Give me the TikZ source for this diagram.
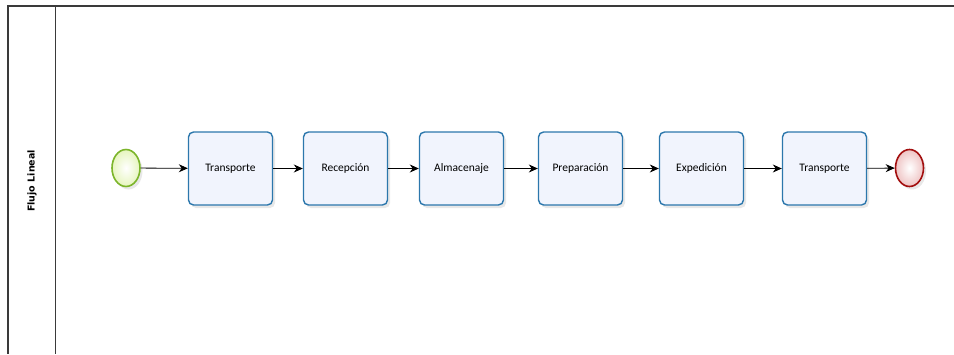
\documentclass[tikz,border=0pt]{standalone}
\usepackage{fontspec}
\setmainfont{Carlito}
\newfontfamily\lanefont{DejaVu Sans}
\usetikzlibrary{arrows.meta, shadows, shapes.geometric}

\begin{document}
\begin{tikzpicture}[
    x=1pt, y=-1pt,
    font=\fontsize{11.5}{13}\selectfont,
    >={Stealth[length=9pt, width=8pt]}
]
    % canvas: 954 x 354
    \path[use as bounding box] (0, 0) rectangle (954, 354);

    % ==========================================
    % colours
    % ==========================================
    \definecolor{taskline}{HTML}{2C77AC}   % task border
    \definecolor{taskfill}{HTML}{F1F4FD}   % task fill
    \definecolor{startline}{HTML}{7CB52B}  % start event
    \definecolor{startfill}{HTML}{E6F5BE}
    \definecolor{endline}{HTML}{A30F0F}    % end event
    \definecolor{endfill}{HTML}{EFC4C4}
    \definecolor{poolline}{HTML}{3A3A3A}

    \tikzset{
        task/.style={draw=taskline, line width=1.4pt, fill=taskfill,
            rounded corners=5pt, minimum width=84pt, minimum height=73pt,
            drop shadow={opacity=0.18, shadow xshift=2.5pt, shadow yshift=-3pt}},
        event/.style={ellipse, minimum width=28pt, minimum height=37pt,
            line width=1.6pt, inner sep=0pt,
            drop shadow={opacity=0.18, shadow xshift=2.5pt, shadow yshift=-3pt}},
        flow/.style={->, line width=0.8pt, black}
    }

    % ==========================================
    % pool / lane
    % ==========================================
    \draw[poolline, line width=1.2pt] (954, 6) -- (8, 6) -- (8, 354);
    \draw[poolline, line width=0.8pt] (55, 6) -- (55, 354);
    \node[rotate=90, font=\lanefont\fontsize{9.5}{11}\selectfont\bfseries] (lane) at (32, 181) {Flujo Lineal};

    % ==========================================
    % events and tasks
    % ==========================================
    \node[event, draw=startline, inner color=white, outer color=startfill] (start) at (126, 168) {};

    \node[task] (t1) at (230.5, 168.5) {Transporte};
    \node[task] (t2) at (345.5, 168.5) {Recepción};
    \node[task] (t3) at (461.5, 168.5) {Almacenaje};
    \node[task] (t4) at (580.5, 168.5) {Preparación};
    \node[task] (t5) at (701.5, 168.5) {Expedición};
    \node[task] (t6) at (824.5, 168.5) {Transporte};

    \node[event, draw=endline, inner color=white, outer color=endfill] (end) at (909.5, 168) {};

    % ==========================================
    % sequence flows
    % ==========================================
    \draw[flow] (start) -- (t1);
    \draw[flow] (t1) -- (t2);
    \draw[flow] (t2) -- (t3);
    \draw[flow] (t3) -- (t4);
    \draw[flow] (t4) -- (t5);
    \draw[flow] (t5) -- (t6);
    \draw[flow] (t6) -- (end);

\end{tikzpicture}
\end{document}
